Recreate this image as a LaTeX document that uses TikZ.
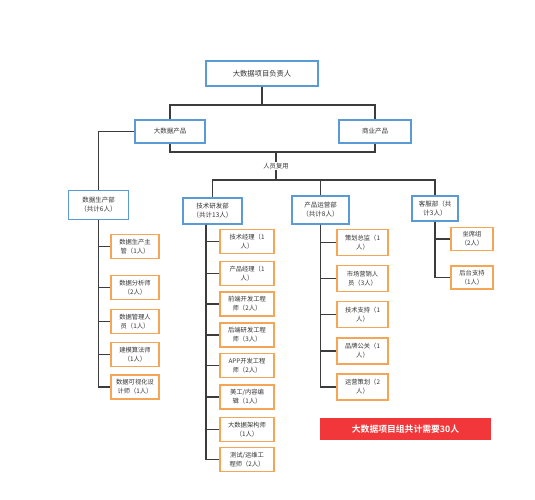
\documentclass[tikz,border=0pt]{standalone}
\usepackage{fontspec}
\setmainfont{Noto Sans CJK SC}
\newfontfamily\cjkb{Noto Sans CJK SC}[BoldFont={Noto Sans CJK SC Bold}]
\definecolor{bluec}{HTML}{5B9BD5}
\definecolor{orangec}{HTML}{F4A656}
\definecolor{linec}{HTML}{3C3C3C}
\definecolor{textc}{HTML}{333333}
\definecolor{redc}{HTML}{F2373A}
\tikzset{
  bbox/.style={draw=bluec, line width=1.3pt, fill=white, align=center, inner sep=1pt,
    text=textc, font=\fontsize{6.5}{9}\selectfont},
  obox/.style={draw=orangec, line width=1.3pt, fill=white, align=center, inner sep=1pt,
    text=textc, font=\fontsize{6.3}{9}\selectfont},
  conn/.style={draw=linec, line width=1.1pt},
}
\begin{document}
\begin{tikzpicture}[x=1pt,y=-1pt]
\useasboundingbox (0,0) rectangle (535,500);
% top level
\node[bbox, minimum width=112pt, minimum height=25pt, font=\fontsize{7.3}{9}\selectfont] (top) at (262,73.5) {大数据项目负责人};
\node[bbox, minimum width=70pt, minimum height=23pt] (p1) at (170,131.5) {大数据产品};
\node[bbox, minimum width=72pt, minimum height=23pt] (p2) at (375,131.5) {商业产品};
\coordinate (j1) at (262,105);
\draw[conn] (top.south) -- (j1);
\draw[conn] (p1.north) |- (j1) -| (p2.north);
\coordinate (j2) at (276,152);
\draw[conn] (p1.south) |- (j2) -| (p2.south);
\node[text=textc, font=\fontsize{6.3}{8}\selectfont, inner sep=1pt] (lbl) at (276,166) {人员复用};
\draw[conn] (j2) -- (lbl.north);
\coordinate (j3) at (276,180);
\draw[conn] (lbl.south) -- (j3);
% departments
\node[bbox, minimum width=60pt, minimum height=29pt] (d1) at (98.5,205) {数据生产部\\（共计6人）};
\node[bbox, minimum width=59pt, minimum height=26pt] (d2) at (212.5,211) {技术研发部\\（共计13人）};
\node[bbox, minimum width=57pt, minimum height=28pt] (d3) at (320.5,210) {产品运营部\\（共计8人）};
\node[bbox, minimum width=46pt, minimum height=25pt] (d4) at (435,208.5) {客服部（共\\计3人）};
\draw[conn] (d2.north) |- (j3) -| (d4.north);
\draw[conn] (d3.north) -- (d3.north |- j3);
\draw[conn] (p1.west) -| (d1.north);
% data production children
\begin{scope}[every node/.style={obox, minimum width=48pt, minimum height=24pt}]
\node (a1) at (135,246.5) {数据生产主\\管（1人）};
\node (a2) at (135,287.5) {数据分析师\\（2人）};
\node (a3) at (135,321.5) {数据管理人\\员（1人）};
\node (a4) at (135,354.5) {建模算法师\\（1人）};
\node (a5) at (135,387) {数据可视化设\\计师（1人）};
\end{scope}
\foreach \c in {a1,a2,a3,a4,a5} \draw[conn] (d1.south) |- (\c.west);
% tech children
\begin{scope}[every node/.style={obox, minimum width=54pt, minimum height=24pt}]
\node (b1) at (247,241.5) {技术经理（1\\人）};
\node (b2) at (247,273.5) {产品经理（1\\人）};
\node (b3) at (247,304) {前端开发工程\\师（2人）};
\node (b4) at (247,335) {后端研发工程\\师（3人）};
\node (b5) at (247,365.5) {APP开发工程\\师（2人）};
\node (b6) at (247,397) {美工/内容编\\辑（1人）};
\node (b7) at (247,429.5) {大数据架构师\\（1人）};
\node (b8) at (247,459.5) {测试/运维工\\程师（2人）};
\end{scope}
\coordinate (t2) at ([xshift=-6.5pt]d2.south);
\foreach \c in {b1,b2,b3,b4,b5,b6,b7,b8} \draw[conn] (t2) |- (\c.west);
% ops children
\begin{scope}[every node/.style={obox, minimum width=51pt, minimum height=26pt}]
\node (c1) at (362.5,242.5) {策划总监（1\\人）};
\node (c2) at (362.5,278.5) {市场营销人\\员（3人）};
\node (c3) at (362.5,314.5) {技术支持（1\\人）};
\node (c4) at (362.5,351) {品牌公关（1\\人）};
\node (c5) at (362.5,387) {运营策划（2\\人）};
\end{scope}
\foreach \c in {c1,c2,c3,c4,c5} \draw[conn] (d3.south) |- (\c.west);
% service children
\begin{scope}[every node/.style={obox, minimum width=42pt, minimum height=23pt}]
\node (e1) at (472,239) {坐席组\\（2人）};
\node (e2) at (472,277.5) {后台支持\\（1人）};
\end{scope}
\foreach \c in {e1,e2} \draw[conn] (d4.south) |- (\c.west);
% banner
\node[fill=redc, minimum width=171pt, minimum height=22pt, text=white, inner sep=0,
  font=\cjkb\bfseries\fontsize{8.8}{10}\selectfont] (ban) at (405.5,429) {大数据项目组共计需要30人};
\end{tikzpicture}
\end{document}
